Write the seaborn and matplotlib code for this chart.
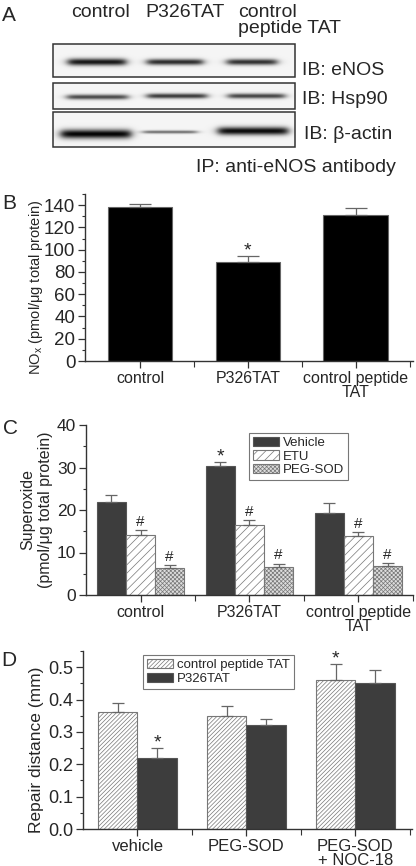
import numpy as np
import pandas as pd
import matplotlib
matplotlib.use('Agg')
import matplotlib.pyplot as plt
from matplotlib.patches import Rectangle
from matplotlib.ticker import MultipleLocator, FixedLocator
import seaborn as sns

# ---- panel A: western blot, band darkness read by eye (0 = none, 1 = black)
blot_lanes = ['control', 'P326TAT', 'control peptide TAT']
blot_rows = ['IB: eNOS', 'IB: Hsp90', 'IB: β-actin']
enos_strength = [0.88, 0.80, 0.78]
hsp90_strength = [0.68, 0.74, 0.70]
actin_strength = [0.95, 0.55, 0.92]
enos_thick = [7, 6, 6]
hsp90_thick = [5, 5, 5]
actin_thick = [9, 3, 8]

# ---- panel B: NOx
b_groups = ['control', 'P326TAT', 'control peptide\nTAT']
b_nox = [138.5, 89, 131]
b_err = [2.5, 5, 6.5]
b_marks = ['', '*', '']

# ---- panel C: superoxide
c_groups = ['control', 'P326TAT', 'control peptide\nTAT']
c_treat = ['Vehicle', 'ETU', 'PEG-SOD']
c_vehicle = [21.8, 30.4, 19.2]
c_etu = [14.1, 16.5, 13.8]
c_pegsod = [6.4, 6.6, 6.8]
c_vehicle_err = [1.7, 0.8, 2.4]
c_etu_err = [1.1, 1.1, 1.0]
c_pegsod_err = [0.6, 0.8, 0.8]
c_vehicle_marks = ['', '*', '']
c_etu_marks = ['#', '#', '#']
c_pegsod_marks = ['#', '#', '#']

# ---- panel D: repair distance
d_groups = ['vehicle', 'PEG-SOD', 'PEG-SOD\n+ NOC-18']
d_series = ['control peptide TAT', 'P326TAT']
d_ctrl = [0.36, 0.35, 0.46]
d_p326 = [0.22, 0.32, 0.45]
d_ctrl_err = [0.03, 0.03, 0.05]
d_p326_err = [0.03, 0.02, 0.04]
d_ctrl_marks = ['', '', '*']
d_p326_marks = ['*', '', '']

sns.set_theme(style='ticks')
plt.rcParams['font.family'] = ['Liberation Sans', 'DejaVu Sans']
plt.rcParams['mathtext.fontset'] = 'custom'
plt.rcParams['mathtext.rm'] = 'Liberation Sans'
plt.rcParams['hatch.linewidth'] = 0.5
ink = '#333333'

fig = plt.figure(figsize=(4.16, 8.66), dpi=100)
W, H = 416, 866

# overlay axes in pixel units for panel A and the panel letters
ov = fig.add_axes([0, 0, 1, 1])
ov.set_xlim(0, W)
ov.set_ylim(H, 0)
ov.axis('off')

# blot strips: box (x0, x1, y0, y1) and lane spans
strip_boxes = [(53, 295, 44, 77), (53, 295, 83, 109), (53, 295, 112, 147)]
lane_spans = [[(68, 126), (147, 203), (227, 277)],
              [(67, 128), (147, 207), (228, 285)],
              [(61, 131), (143, 197), (218, 288)]]
band_centres = [[62, 62, 62], [97, 96, 96], [134, 132, 131]]
strengths = [enos_strength, hsp90_strength, actin_strength]
thicks = [enos_thick, hsp90_thick, actin_thick]

for r, (x0, x1, y0, y1) in enumerate(strip_boxes):
    xs = np.arange(x0, x1, 0.5) + 0.25
    ys = np.arange(y0, y1, 0.5) + 0.25
    X, Y = np.meshgrid(xs, ys)
    dark = np.full(X.shape, 0.04)
    for (lx0, lx1), yc, s, t in zip(lane_spans[r], band_centres[r], strengths[r], thicks[r]):
        px = 1 / (1 + np.exp(-(X - lx0) / 2.5)) / (1 + np.exp((X - lx1) / 2.5))
        py = np.exp(-((Y - yc) / (t / 2.0)) ** 2)
        dark += s * px * py
    img = 1 - np.clip(dark, 0, 1)
    ov.imshow(img, cmap='gray', vmin=0, vmax=1, extent=(x0, x1, y1, y0),
              interpolation='bilinear', aspect='auto')
    ov.add_patch(Rectangle((x0, y0), x1 - x0, y1 - y0, fill=False,
                           edgecolor=ink, lw=1.1))
ov.set_xlim(0, W)
ov.set_ylim(H, 0)

fs_a = 14
ov.text(100, 17, blot_lanes[0], ha='center', va='baseline', fontsize=fs_a)
ov.text(145, 17, blot_lanes[1], ha='left', va='baseline', fontsize=fs_a)
ov.text(238, 17, 'control', ha='left', va='baseline', fontsize=fs_a)
ov.text(238, 33, 'peptide TAT', ha='left', va='baseline', fontsize=fs_a)
ov.text(302, 75, blot_rows[0], ha='left', va='baseline', fontsize=fs_a)
ov.text(302, 104, blot_rows[1], ha='left', va='baseline', fontsize=fs_a)
ov.text(304, 139, blot_rows[2], ha='left', va='baseline', fontsize=fs_a)
ov.text(196, 172, 'IP: anti-eNOS antibody', ha='left', va='baseline', fontsize=fs_a)

for letter, x, y in [('A', 2, 21), ('B', 2, 209), ('C', 3, 434), ('D', 1, 666)]:
    ov.text(x, y, letter, ha='left', va='baseline', fontsize=15)


def px_axes(left, right, top, bottom):
    return fig.add_axes([left / W, 1 - bottom / H, (right - left) / W, (bottom - top) / H])


def style(ax, ysize, xsize):
    sns.despine(ax=ax)
    ax.set_facecolor('none')
    for s in ['left', 'bottom']:
        ax.spines[s].set_color(ink)
        ax.spines[s].set_linewidth(1.0)
    ax.tick_params(which='major', direction='out', length=5, width=0.9, color=ink, pad=2)
    ax.tick_params(which='minor', direction='out', length=2.5, width=0.8, color=ink)
    ax.xaxis.set_minor_locator(FixedLocator([0.5, 1.5, 2.5]))
    ax.tick_params(axis='x', which='minor', length=4.5)
    ax.tick_params(axis='y', labelsize=ysize)
    ax.tick_params(axis='x', labelsize=xsize)
    ax.set_xlabel('')


def add_errors(ax, bars, errs, marks, offsets, capsize=4):
    xs = [b.get_x() + b.get_width() / 2 for b in bars]
    hs = [b.get_height() for b in bars]
    ax.errorbar(xs, hs, yerr=[np.zeros(len(errs)), errs], fmt='none',
                ecolor='#666666', elinewidth=0.9, capsize=capsize, capthick=0.9)
    for x, h, e, m in zip(xs, hs, errs, marks):
        if m:
            ax.annotate(m, xy=(x, h + e), xytext=(0, offsets[m]), textcoords='offset points',
                        ha='center', va='baseline', fontsize=offsets[m + 'size'])


marks_off = {'*': 0.5, '#': 3, '*size': 14, '#size': 11}

# ---- B
axb = px_axes(85, 413, 194, 361)
sns.barplot(x=b_groups, y=b_nox, color='black', saturation=1, width=0.6,
            errorbar=None, edgecolor='#666666', linewidth=0.8, ax=axb)
add_errors(axb, axb.patches, b_err, b_marks, marks_off, capsize=8)
axb.set_ylim(0, 150)
axb.set_xlim(-0.51, 2.53)
axb.yaxis.set_major_locator(MultipleLocator(20))
axb.yaxis.set_minor_locator(MultipleLocator(10))
style(axb, 13.5, 11.5)
axb.set_ylabel('NO$_\\mathrm{x}$ (pmol/μg total protein)', fontsize=10.5, va='center')
axb.yaxis.set_label_coords(-0.148, 0.44)

# ---- C
c_df = pd.DataFrame({
    'group': c_groups * 3,
    'treatment': np.repeat(c_treat, 3),
    'value': c_vehicle + c_etu + c_pegsod,
})
axc = px_axes(86, 413, 425, 595)
sns.barplot(data=c_df, x='group', y='value', hue='treatment', order=c_groups,
            hue_order=c_treat, palette=['#3d3d3d', 'white', '#dddddd'], saturation=1,
            width=0.8, errorbar=None, legend=False, edgecolor='#555555', linewidth=0.8, ax=axc)
c_bars = list(axc.containers)
for cont, hatch in zip(c_bars, [None, '////', 'xxxxxxxx']):
    for p in cont.patches:
        p.set_hatch(hatch)
        if hatch:
            p.set_edgecolor('#777777')
for cont, errs, marks in zip(c_bars, [c_vehicle_err, c_etu_err, c_pegsod_err],
                             [c_vehicle_marks, c_etu_marks, c_pegsod_marks]):
    add_errors(axc, cont.patches, errs, marks, marks_off)
axc.set_ylim(0, 40)
axc.set_xlim(-0.5, 2.5)
axc.yaxis.set_major_locator(MultipleLocator(10))
axc.yaxis.set_minor_locator(MultipleLocator(5))
style(axc, 12.5, 11.5)
axc.set_ylabel('Superoxide\n(pmol/μg total protein)', fontsize=11.5, va='center')
axc.yaxis.set_label_coords(-0.15, 0.5)
leg = axc.legend(c_bars, c_treat, loc='upper left', bbox_to_anchor=(0.498, 0.955),
                 fontsize=9.5, frameon=True, fancybox=False, edgecolor='#555555',
                 handlelength=2.0, handleheight=0.7, labelspacing=0.12,
                 handletextpad=0.3, borderpad=0.3, borderaxespad=0)
leg.get_frame().set_linewidth(0.8)

# ---- D
d_df = pd.DataFrame({
    'group': d_groups * 2,
    'series': np.repeat(d_series, 3),
    'value': d_ctrl + d_p326,
})
axd = px_axes(83, 412, 651, 829)
sns.barplot(data=d_df, x='group', y='value', hue='series', order=d_groups,
            hue_order=d_series, palette=['white', '#3d3d3d'], saturation=1,
            width=0.72, errorbar=None, legend=False, edgecolor='#555555', linewidth=0.8, ax=axd)
d_bars = list(axd.containers)
for p in d_bars[0].patches:
    p.set_hatch('////////')
    p.set_edgecolor('#777777')
for cont, errs, marks in zip(d_bars, [d_ctrl_err, d_p326_err], [d_ctrl_marks, d_p326_marks]):
    add_errors(axd, cont.patches, errs, marks, marks_off)
axd.set_ylim(0, 0.55)
axd.set_xlim(-0.5, 2.52)
axd.yaxis.set_major_locator(MultipleLocator(0.1))
axd.yaxis.set_minor_locator(MultipleLocator(0.05))
axd.yaxis.set_major_formatter(matplotlib.ticker.FormatStrFormatter('%.1f'))
style(axd, 13, 12)
axd.set_ylabel('Repair distance (mm)', fontsize=12.5, va='center')
axd.yaxis.set_label_coords(-0.14, 0.445)
leg = axd.legend(d_bars, d_series, loc='upper left', bbox_to_anchor=(0.182, 0.977),
                 fontsize=9.5, frameon=True, fancybox=False, edgecolor='#555555',
                 handlelength=2.0, handleheight=0.7, labelspacing=0.12,
                 handletextpad=0.3, borderpad=0.3, borderaxespad=0)
leg.get_frame().set_linewidth(0.8)

for ax, ls in [(axb, 0.95), (axc, 0.95), (axd, 0.9)]:
    for lbl in ax.get_xticklabels():
        lbl.set_linespacing(ls)

fig.savefig('out.png', dpi=100)
